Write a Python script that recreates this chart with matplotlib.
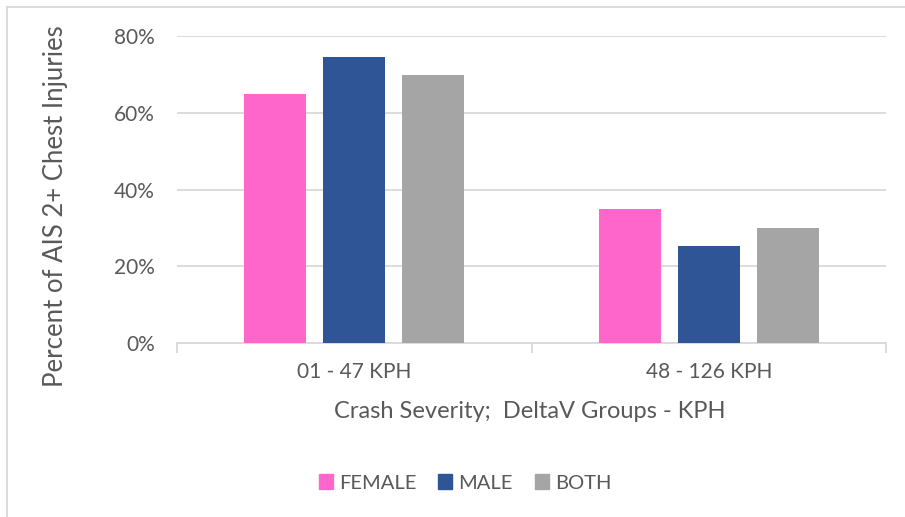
import matplotlib.pyplot as plt
from matplotlib.lines import Line2D
import numpy as np

groups = ["01 - 47 KPH", "48 - 126 KPH"]
series = ["FEMALE", "MALE", "BOTH"]
female = [0.65, 0.35]
male = [0.747, 0.253]
both = [0.70, 0.30]
colors = ["#FF66CC", "#2F5597", "#A5A5A5"]

plt.rcParams['font.family'] = ['Lato', 'DejaVu Sans']
txt = "#595959"
grid = "#D9D9D9"

fig = plt.figure(figsize=(9.05, 5.17), dpi=100)
ax = fig.add_axes([0.1956, 0.3366, 0.979 - 0.1956, 0.930 - 0.3366])

x = np.arange(len(groups))
w = 0.175
off = 0.223
for i, (vals, name) in enumerate(zip([female, male, both], series)):
    ax.bar(x + (i - 1) * off, vals, w, color=colors[i], label=name, zorder=3)

ax.set_xlim(-0.5, 1.5)
ax.set_ylim(0, 0.8)
ax.set_yticks([0, 0.2, 0.4, 0.6, 0.8])
ax.set_yticklabels(["0%", "20%", "40%", "60%", "80%"])
ax.yaxis.grid(True, color=grid, lw=1.3, zorder=0)
ax.tick_params(axis='y', length=0, pad=16, labelsize=15, labelcolor=txt)

ax.set_xticks([-0.5, 0.5, 1.5])
ax.set_xticklabels([])
ax.set_xticks(x, minor=True)
ax.set_xticklabels(groups, minor=True)
ax.tick_params(axis='x', which='major', length=7, width=1.3, color=grid)
ax.tick_params(axis='x', which='minor', length=0, pad=14, labelsize=15, labelcolor=txt)

for s in ["top", "right", "left"]:
    ax.spines[s].set_visible(False)
ax.spines["bottom"].set_color(grid)
ax.spines["bottom"].set_linewidth(1.3)

fig.text(56 / 905, 1 - 206 / 517, "Percent of AIS 2+ Chest Injuries", rotation=90,
         ha="center", va="center", fontsize=18.5, color=txt)
fig.text(530 / 905, 1 - 411 / 517, "Crash Severity;  DeltaV Groups - KPH",
         ha="center", va="center", fontsize=17, color=txt)

handles = [plt.Rectangle((0, 0), 1, 1, color=c) for c in colors]
leg = fig.legend(handles, series, loc="center", bbox_to_anchor=(465 / 905, 1 - 483 / 517),
                 ncol=3, frameon=False, fontsize=14.5, handlelength=0.7, handleheight=0.7,
                 handletextpad=0.3, columnspacing=1.1)
for t in leg.get_texts():
    t.set_color(txt)

fig.add_artist(Line2D([7 / 905, 7 / 905], [0, 1 - 7 / 517], color=grid, lw=1.3))
fig.add_artist(Line2D([7 / 905, 1], [1 - 7 / 517, 1 - 7 / 517], color=grid, lw=1.3))

fig.savefig("out.png", dpi=100)
